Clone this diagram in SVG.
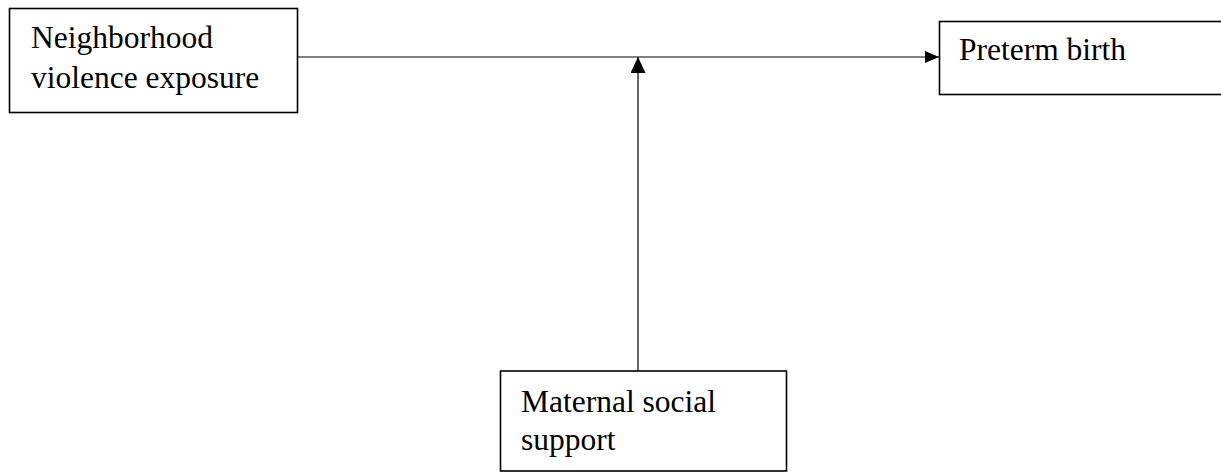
<svg xmlns="http://www.w3.org/2000/svg" width="1221" height="472" viewBox="0 0 1221 472">
<style>
.box{fill:#fff;stroke:#000;stroke-width:1.6}
.t{font-family:"Liberation Serif","Times New Roman",serif;font-size:31.5px;fill:#000}
.c{stroke:#000;stroke-width:1.2;fill:none}
</style>
<defs>
<marker id="ah" viewBox="0 0 14 12" refX="14" refY="6" markerWidth="14" markerHeight="12" markerUnits="userSpaceOnUse" orient="auto">
<path d="M0,0 L14,6 L0,12 Z" fill="#000"/>
</marker>
<marker id="av" viewBox="0 0 16 15" refX="16" refY="7.5" markerWidth="16" markerHeight="15" markerUnits="userSpaceOnUse" orient="auto">
<path d="M0,0 L16,7.5 L0,15 Z" fill="#000"/>
</marker>
</defs>
<rect width="1221" height="472" fill="#fff"/>
<g id="connectors">
<line class="c" x1="298" y1="57" x2="939" y2="57" marker-end="url(#ah)"/>
<line class="c" x1="638" y1="371" x2="638" y2="57" marker-end="url(#av)"/>
</g>
<g id="node-neighborhood">
<rect class="box" x="9.5" y="8.5" width="288" height="104"/>
<text class="t" x="31" y="47.5">Neighborhood</text>
<text class="t" x="31" y="88">violence exposure</text>
</g>
<g id="node-preterm">
<rect class="box" x="939.5" y="21.5" width="290" height="73"/>
<text class="t" x="959" y="60">Preterm birth</text>
</g>
<g id="node-maternal">
<rect class="box" x="500.5" y="371" width="286" height="100"/>
<text class="t" x="521" y="411.5">Maternal social</text>
<text class="t" x="521" y="450">support</text>
</g>
</svg>
